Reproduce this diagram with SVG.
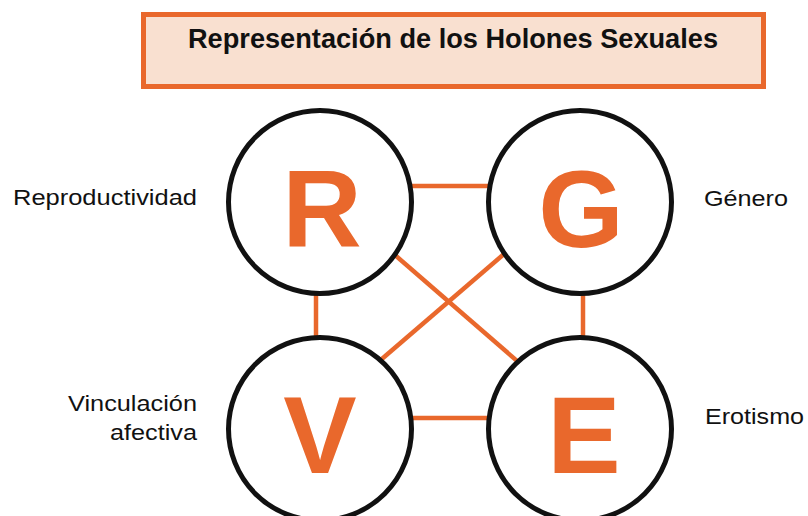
<svg xmlns="http://www.w3.org/2000/svg" width="808" height="516" viewBox="0 0 808 516">
<style>
.edge{stroke:#E9682C;stroke-width:4.5;fill:none}
.ring{fill:#fff;stroke:#111;stroke-width:5}
.big{font-family:"Liberation Sans",Arial,sans-serif;font-weight:bold;font-size:110px;fill:#E9682C;text-anchor:middle}
.lbl{font-family:"Liberation Sans",Arial,sans-serif;font-size:22px;fill:#111}
</style>
<rect width="808" height="516" fill="#fff"/>
<g id="title">
<rect x="143.5" y="14.5" width="620" height="72" fill="#F9E0D0" stroke="#E9682C" stroke-width="5"/>
<text x="188" y="48" font-family="'Liberation Sans',Arial,sans-serif" font-weight="bold" font-size="27" fill="#111" textLength="530" lengthAdjust="spacingAndGlyphs">Representación de los Holones Sexuales</text>
</g>
<g id="connectors">
<line class="edge" x1="400" y1="186" x2="500" y2="186"/>
<line class="edge" x1="400" y1="418" x2="500" y2="418"/>
<line class="edge" x1="316" y1="280" x2="316" y2="350"/>
<line class="edge" x1="583" y1="280" x2="583" y2="350"/>
<line class="edge" x1="388" y1="249" x2="524" y2="367"/>
<line class="edge" x1="511" y1="248" x2="376" y2="364"/>
</g>
<g id="node-R">
<circle class="ring" cx="320" cy="202" r="91.5"/>
<text class="big" x="322" y="247">R</text>
</g>
<g id="node-G">
<circle class="ring" cx="580" cy="202" r="91.5"/>
<text class="big" x="581" y="247">G</text>
</g>
<g id="node-V">
<circle class="ring" cx="320" cy="429" r="91.5"/>
<text class="big" x="320" y="473">V</text>
</g>
<g id="node-E">
<circle class="ring" cx="580" cy="429" r="91.5"/>
<text class="big" x="584" y="473">E</text>
</g>
<g id="labels">
<text class="lbl" x="13" y="205" textLength="184" lengthAdjust="spacingAndGlyphs">Reproductividad</text>
<text class="lbl" x="68" y="411" textLength="129" lengthAdjust="spacingAndGlyphs">Vinculación</text>
<text class="lbl" x="110" y="440" textLength="87" lengthAdjust="spacingAndGlyphs">afectiva</text>
<text class="lbl" x="704" y="206" textLength="84" lengthAdjust="spacingAndGlyphs">Género</text>
<text class="lbl" x="705" y="424" textLength="99" lengthAdjust="spacingAndGlyphs">Erotismo</text>
</g>
</svg>
